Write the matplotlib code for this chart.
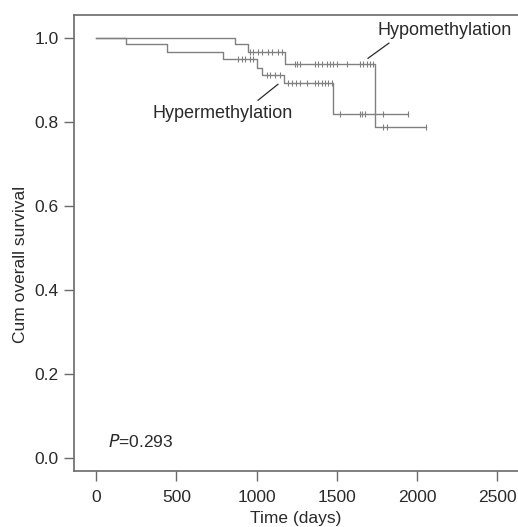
import numpy as np
import matplotlib
matplotlib.use("Agg")
import matplotlib.pyplot as plt

plt.rcParams['font.family'] = ['Liberation Sans', 'DejaVu Sans']

# Kaplan-Meier steps (time in days, survival after the step)
hypo_times = [0, 866, 947, 1177, 1737]
hypo_surv = [1.0, 0.985, 0.968, 0.938, 0.788]
hypo_censor = [959, 978, 1009, 1034, 1071, 1096, 1133, 1158,
               1239, 1252, 1270, 1364, 1382, 1407, 1438, 1457, 1476, 1501,
               1563, 1644, 1663, 1688, 1706, 1725, 1787, 1812, 2055]

hyper_times = [0, 187, 442, 791, 1003, 1034, 1171, 1476]
hyper_surv = [1.0, 0.985, 0.967, 0.950, 0.930, 0.912, 0.893, 0.820]
hyper_censor = [884, 909, 928, 959, 978, 1065, 1084, 1115, 1146,
                1196, 1221, 1246, 1270, 1314, 1364, 1382, 1407, 1426, 1444, 1469,
                1519, 1644, 1656, 1675, 1787, 1943]

x_ticks = [0, 500, 1000, 1500, 2000, 2500]
y_ticks = [0.0, 0.2, 0.4, 0.6, 0.8, 1.0]
p_text = "=0.293"

line_col = "#808080"
text_col = "#2a2a2a"
axis_col = "#6a6a6a"


def level_at(times, surv, t):
    i = np.searchsorted(times, t, side='right') - 1
    return np.asarray(surv)[i]


def km_curve(ax, times, surv, censor):
    t_end = max(censor)
    xs = list(times) + [t_end]
    ys = list(surv) + [surv[-1]]
    ax.step(xs, ys, where='post', color=line_col, lw=1.0)
    cy = [level_at(times, surv, c) for c in censor]
    ax.plot(censor, cy, ls='none', marker='|', ms=5, mew=0.8, color=line_col)


fig = plt.figure(figsize=(5.18, 5.27), dpi=100)
ax = fig.add_axes([0.1429, 0.1063, 0.8571, 0.8652])

km_curve(ax, hypo_times, hypo_surv, hypo_censor)
km_curve(ax, hyper_times, hyper_surv, hyper_censor)

ax.set_xlim(-137, 2628)
ax.set_ylim(-0.031, 1.055)
ax.set_xticks(x_ticks)
ax.set_yticks(y_ticks)
ax.set_yticklabels(["%.1f" % v for v in y_ticks])

for s in ['left', 'top', 'bottom']:
    ax.spines[s].set_color(axis_col)
    ax.spines[s].set_linewidth(1.2)
ax.spines['right'].set_visible(False)

ax.tick_params(axis='both', direction='out', length=7, width=1.0,
               color=axis_col, labelsize=12.5, labelcolor=text_col)
ax.tick_params(axis='x', pad=7)
ax.tick_params(axis='y', pad=4)

ax.set_xlabel("Time (days)", fontsize=12.5, color=text_col, labelpad=4)
ax.set_ylabel("Cum overall survival", fontsize=12.5, color=text_col)
ax.yaxis.set_label_coords(-0.103, 0.452)

# curve labels
ax.text(2173, 1.017, "Hypomethylation", fontsize=13, color=text_col,
        ha='center', va='center')
ax.plot([1824, 1694], [0.988, 0.952], color=text_col, lw=0.9)
ax.text(791, 0.821, "Hypermethylation", fontsize=13, color=text_col,
        ha='center', va='center')
ax.plot([1009, 1133], [0.852, 0.89], color=text_col, lw=0.9)

ax.text(75, 0.04, r"$P$" + p_text, fontsize=12.5, color=text_col,
        ha='left', va='center')

fig.savefig("out.png", dpi=100)
